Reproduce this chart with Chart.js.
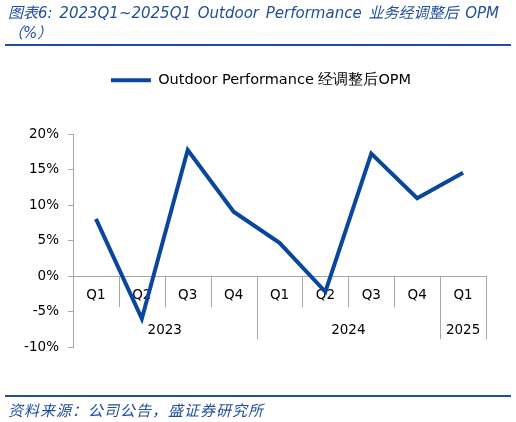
<!DOCTYPE html>
<html>
<head>
<meta charset="utf-8">
<script src="https://cdn.jsdelivr.net/npm/chart.js@4.4.1/dist/chart.umd.min.js"></script>
<style>
  html, body { margin: 0; padding: 0; background: #fff; }
  body { width: 516px; height: 422px; position: relative; overflow: hidden; }
  .title { position: absolute; left: 8px; top: 3px; color: #1f4e9c; white-space: nowrap;
           font: italic 15px "DejaVu Sans", "Noto Sans CJK SC", sans-serif; line-height: 20px; word-spacing: 2px; }
  .rule { position: absolute; left: 5px; width: 506px; height: 2px; background: #1f4e9c; }
  .source { position: absolute; left: 8px; top: 399px; color: #1f4e9c;
            font: italic 15px "Noto Sans CJK SC", sans-serif; letter-spacing: 1px; }
  #wrap { position: absolute; left: 0; top: 0; width: 516px; height: 422px; }
</style>
</head>
<body>
<div id="wrap"><canvas id="chart" width="516" height="422"></canvas></div>
<div class="title">图表6: 2023Q1~2025Q1 Outdoor Performance 业务经调整后 OPM<br>（%）</div>
<div class="rule" style="top:44px"></div>
<div class="rule" style="top:395px"></div>
<div class="source">资料来源：公司公告，盛证券研究所</div>
<script>
// data
const quarters = ['Q1', 'Q2', 'Q3', 'Q4', 'Q1', 'Q2', 'Q3', 'Q4', 'Q1'];
const years = ['2023', '2024', '2025'];
const yearSpans = [4, 4, 1];
const opm = [8.1, -6.0, 17.8, 9.1, 4.7, -2.2, 17.3, 11.0, 14.6];
const seriesLabel = 'Outdoor Performance 经调整后OPM';

const lineColor = '#0a479c';
const axisGray = '#a6a6a6';
const tickFont = { family: 'DejaVu Sans', size: 13.5 };

// separators under the category axis + year row
const yearRow = {
    id: 'yearRow',
    beforeInit(chart) {
        // extra room between legend and plot
        const fit = chart.legend.fit;
        chart.legend.fit = function () {
            fit.call(this);
            this.height += 37;
        };
    },
    afterLayout(chart) {
        // legend sits centred on the page, not on the padded box
        chart.legend.left += 18;
        chart.legend.right += 18;
    },
    afterDraw(chart) {
        const x = chart.scales.x, y = chart.scales.y;
        const ctx = chart.ctx;
        const y0 = y.getPixelForValue(0);
        const yearEnds = [];
        let acc = 0;
        yearSpans.forEach(s => { acc += s; yearEnds.push(acc); });
        ctx.save();
        ctx.strokeStyle = axisGray;
        ctx.lineWidth = 1;
        for (let i = 1; i <= quarters.length; i++) {
            const px = Math.round(x.getPixelForValue(i - 0.5)) + 0.5;
            const long = yearEnds.includes(i);
            ctx.beginPath();
            ctx.moveTo(px, y0);
            ctx.lineTo(px, y0 + (long ? 63 : 31));
            ctx.stroke();
        }
        ctx.fillStyle = '#000';
        ctx.font = '13.5px "DejaVu Sans"';
        ctx.textAlign = 'center';
        ctx.textBaseline = 'middle';
        let start = 0;
        years.forEach((yr, k) => {
            const end = start + yearSpans[k] - 1;
            const cx = (x.getPixelForValue(start) + x.getPixelForValue(end)) / 2;
            ctx.fillText(yr, cx, y0 + 54);
            start += yearSpans[k];
        });
        ctx.restore();
    }
};

new Chart(document.getElementById('chart'), {
    type: 'line',
    data: {
        labels: quarters,
        datasets: [{
            label: seriesLabel,
            data: opm,
            borderColor: lineColor,
            backgroundColor: lineColor,
            borderWidth: 4,
            pointRadius: 0,
            tension: 0
        }]
    },
    options: {
        responsive: false,
        animation: false,
        devicePixelRatio: 1,
        layout: { padding: { top: 53, left: 0, right: 30, bottom: 75 } },
        plugins: {
            legend: {
                position: 'top',
                labels: {
                    color: '#000',
                    font: { family: 'DejaVu Sans', size: 14.5 },
                    boxWidth: 40,
                    boxHeight: 4,
                    padding: 20,
                    generateLabels(chart) {
                        const items = Chart.defaults.plugins.legend.labels.generateLabels(chart);
                        items.forEach(it => { it.lineWidth = 0; it.fillStyle = lineColor; });
                        return items;
                    }
                }
            },
            tooltip: { enabled: false }
        },
        scales: {
            x: {
                type: 'category',
                position: { y: 0 },
                offset: true,
                grid: { display: true, drawOnChartArea: false, drawTicks: false, offset: true },
                border: { display: true, color: axisGray },
                ticks: { color: '#000', font: tickFont, padding: 11, maxRotation: 0, autoSkip: false }
            },
            y: {
                min: -10,
                max: 20,
                afterFit(scale) { scale.width = 73; },
                grid: { drawOnChartArea: false, drawTicks: true, tickLength: 5, color: axisGray },
                border: { display: true, color: axisGray },
                ticks: { stepSize: 5, color: '#000', font: tickFont, padding: 9,
                         callback: v => v + '%' }
            }
        }
    },
    plugins: [yearRow]
});
</script>
</body>
</html>
